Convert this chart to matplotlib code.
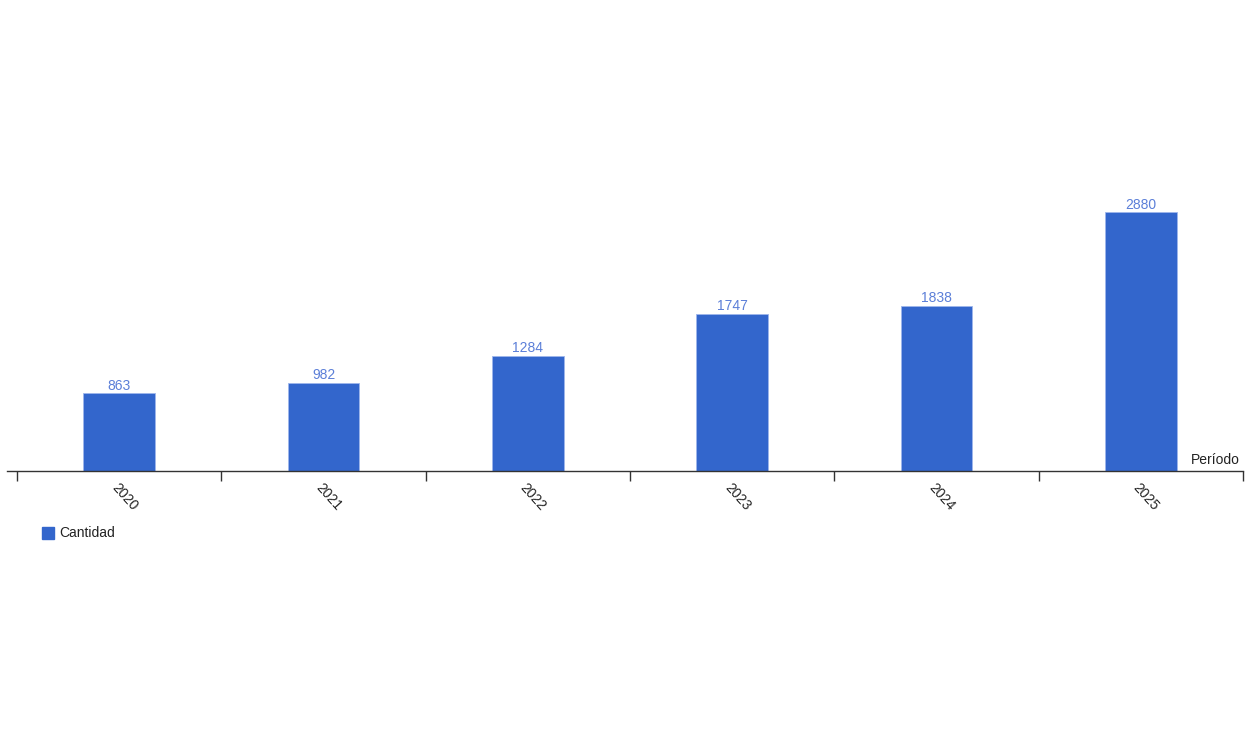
"""
bar chart: cantidad por periodo
"""

import matplotlib.pyplot as plt

# data
periods = ['2020', '2021', '2022', '2023', '2024', '2025']
amounts = [863, 982, 1284, 1747, 1838, 2880]

BAR_COLOR = '#3366CC'
LABEL_COLOR = '#5B7FD8'
W, H = 1250, 735

fig = plt.figure(figsize=(W / 100, H / 100), dpi=100)
plt.rcParams['font.family'] = ['Liberation Sans', 'DejaVu Sans']

# axes placed in pixel coords: x line from 7 to 1243, baseline at y=471
ax = fig.add_axes([7 / W, (H - 471) / H, (1243 - 7) / W, 471 / H])
xpos = list(range(len(periods)))
bars = ax.bar(xpos, amounts, width=0.35, color=BAR_COLOR,
              edgecolor='#9fb6ec', linewidth=0.6, zorder=2)

ax.set_xlim(-0.549, 5.5)
ax.set_ylim(0, 5237)

# value labels above bars
for b, v in zip(bars, amounts):
    ax.text(b.get_x() + b.get_width() / 2, v + 5, str(v), ha='center',
            va='bottom', fontsize=10, color=LABEL_COLOR)

# spines
for s in ['top', 'right', 'left']:
    ax.spines[s].set_visible(False)
ax.spines['bottom'].set_color('#333333')
ax.spines['bottom'].set_linewidth(1.0)
ax.set_yticks([])

# category labels at centers, ticks at group boundaries
ax.set_xticks(xpos)
ax.set_xticklabels(periods, rotation=-48, ha='left', va='top',
                   rotation_mode='anchor', fontsize=10, color='#222222')
ax.tick_params(axis='x', which='major', length=0, pad=7)
ax.set_xticks([i - 0.5 for i in range(len(periods) + 1)], minor=True)
ax.tick_params(axis='x', which='minor', length=7, width=1, color='#333333',
               direction='out')

# axis title
fig.text(1191 / W, 1 - 460 / H, 'Período', ha='left', va='center',
         fontsize=10, color='#222222')

# legend
fig.patches.append(plt.Rectangle((42 / W, 1 - 539 / H), 12 / W, 12 / H,
                                 transform=fig.transFigure, color=BAR_COLOR))
fig.text(59 / W, 1 - 533 / H, 'Cantidad', ha='left', va='center',
         fontsize=10, color='#222222')

fig.savefig('out.png', dpi=100)
